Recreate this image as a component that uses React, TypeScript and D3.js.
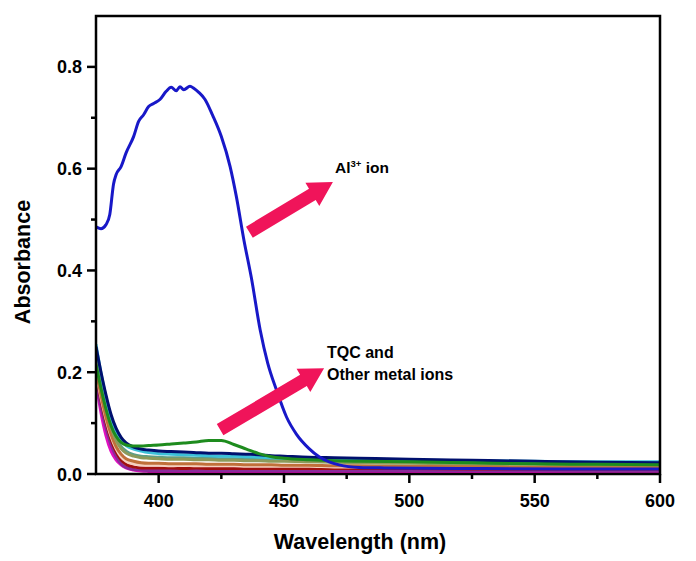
import React from "react";
import * as d3 from "d3";

// ---- Data ----
const xTicksMajor = [400, 450, 500, 550, 600];
const xTicksMinor = [425, 475, 525, 575];
const yTicksMajor = [0.0, 0.2, 0.4, 0.6, 0.8];
const yTicksMinor = [0.1, 0.3, 0.5, 0.7];

// Al3+ spectrum
const alWl = [375, 377, 379, 380.5, 382, 383, 385, 387, 390, 392, 394, 396, 398, 400.5, 403, 405, 407, 408.5, 410, 412.5, 414, 416, 418.5, 421.5, 425, 428.5, 431, 434, 437, 440.5, 443.5, 447, 451, 455, 460, 464, 468, 472, 480, 490, 520, 560, 600];
const alAbs = [0.486, 0.482, 0.49, 0.51, 0.57, 0.588, 0.604, 0.631, 0.663, 0.693, 0.706, 0.722, 0.728, 0.736, 0.752, 0.76, 0.753, 0.761, 0.755, 0.762, 0.758, 0.75, 0.736, 0.705, 0.663, 0.604, 0.545, 0.46, 0.385, 0.283, 0.218, 0.165, 0.112, 0.078, 0.05, 0.034, 0.024, 0.018, 0.013, 0.012, 0.011, 0.01, 0.01];

// TQC and other metal ions (common wavelength grid)
const wl = [375, 377, 379, 381, 383, 385, 387, 390, 393, 396, 400, 405, 410, 415, 420, 425, 430, 435, 440, 445, 450, 460, 470, 480, 500, 525, 550, 575, 600];
const magentaAbs = [0.18, 0.12, 0.075, 0.045, 0.028, 0.018, 0.012, 0.008, 0.006, 0.005, 0.004, 0.004, 0.004, 0.004, 0.004, 0.004, 0.004, 0.004, 0.004, 0.004, 0.004, 0.004, 0.004, 0.004, 0.004, 0.004, 0.004, 0.004, 0.004];
const purpleAbs = [0.185, 0.132, 0.09, 0.057, 0.035, 0.02, 0.013, 0.009, 0.008, 0.007, 0.007, 0.007, 0.007, 0.007, 0.007, 0.007, 0.007, 0.007, 0.007, 0.007, 0.007, 0.007, 0.007, 0.007, 0.007, 0.007, 0.007, 0.006, 0.006];
const darkRedAbs = [0.195, 0.145, 0.102, 0.068, 0.044, 0.028, 0.019, 0.014, 0.012, 0.012, 0.012, 0.012, 0.011, 0.012, 0.011, 0.011, 0.011, 0.011, 0.011, 0.011, 0.011, 0.011, 0.011, 0.011, 0.011, 0.01, 0.01, 0.01, 0.01];
const paleAbs = [0.2, 0.15, 0.108, 0.074, 0.05, 0.034, 0.025, 0.02, 0.018, 0.017, 0.017, 0.016, 0.017, 0.016, 0.016, 0.016, 0.016, 0.015, 0.015, 0.015, 0.015, 0.015, 0.014, 0.014, 0.014, 0.013, 0.013, 0.013, 0.013];
const orangeAbs = [0.205, 0.155, 0.112, 0.078, 0.054, 0.039, 0.03, 0.025, 0.022, 0.021, 0.021, 0.02, 0.02, 0.02, 0.019, 0.019, 0.019, 0.018, 0.018, 0.018, 0.017, 0.017, 0.016, 0.016, 0.015, 0.015, 0.014, 0.014, 0.014];
const tealAbs = [0.23, 0.178, 0.133, 0.097, 0.071, 0.054, 0.045, 0.038, 0.035, 0.034, 0.033, 0.032, 0.032, 0.031, 0.031, 0.03, 0.03, 0.029, 0.029, 0.028, 0.028, 0.027, 0.026, 0.025, 0.024, 0.023, 0.022, 0.021, 0.021];
const oliveAbs = [0.225, 0.172, 0.128, 0.092, 0.066, 0.05, 0.041, 0.035, 0.032, 0.031, 0.03, 0.029, 0.029, 0.028, 0.028, 0.027, 0.027, 0.026, 0.026, 0.025, 0.025, 0.024, 0.023, 0.022, 0.021, 0.02, 0.019, 0.018, 0.018];
const cyanAbs = [0.255, 0.198, 0.15, 0.11, 0.083, 0.066, 0.056, 0.049, 0.045, 0.042, 0.04, 0.039, 0.038, 0.037, 0.036, 0.035, 0.035, 0.034, 0.033, 0.032, 0.031, 0.03, 0.029, 0.028, 0.027, 0.026, 0.025, 0.024, 0.024];
const navyAbs = [0.25, 0.2, 0.155, 0.117, 0.09, 0.072, 0.061, 0.053, 0.049, 0.047, 0.045, 0.044, 0.043, 0.042, 0.041, 0.041, 0.04, 0.039, 0.038, 0.036, 0.035, 0.033, 0.032, 0.031, 0.029, 0.027, 0.025, 0.023, 0.022];
const greenAbs = [0.215, 0.168, 0.127, 0.095, 0.074, 0.062, 0.057, 0.055, 0.055, 0.056, 0.057, 0.059, 0.061, 0.063, 0.066, 0.066, 0.058, 0.049, 0.04, 0.034, 0.031, 0.028, 0.026, 0.025, 0.024, 0.022, 0.02, 0.019, 0.018];

const otherSeries = [
  { name: "magenta", color: "#E010C0", values: magentaAbs },
  { name: "purple", color: "#8A2A9A", values: purpleAbs },
  { name: "darkred", color: "#A01010", values: darkRedAbs },
  { name: "pale", color: "#F5D0C0", values: paleAbs },
  { name: "orange", color: "#C0703A", values: orangeAbs },
  { name: "teal", color: "#5E9E86", values: tealAbs },
  { name: "olive", color: "#8C9A5A", values: oliveAbs },
  { name: "cyan", color: "#3CC0D8", values: cyanAbs },
  { name: "navy", color: "#00106E", values: navyAbs },
  { name: "green", color: "#1E8C1E", values: greenAbs },
];

// Arrow annotations in data space: [tailWl, tailAbs, tipWl, tipAbs]
const arrowAl = [436.2, 0.475, 469.5, 0.574];
const arrowOther = [424.5, 0.087, 466.0, 0.208];

const W = 696;
const H = 561;
const margin = { left: 96, right: 36, top: 16, bottom: 87 };

export default function App() {
  const x = d3.scaleLinear().domain([375, 600]).range([margin.left, W - margin.right]);
  const y = d3.scaleLinear().domain([0, 0.9]).range([H - margin.bottom, margin.top]);
  const x0 = x.range()[0], x1 = x.range()[1];
  const y0 = y.range()[0], y1 = y.range()[1];

  const line = d3
    .line<[number, number]>()
    .x((d) => x(d[0]))
    .y((d) => y(d[1]))
    .curve(d3.curveMonotoneX);

  const arrowPath = (a: number[]) => {
    const tx = x(a[0]), ty = y(a[1]), hx = x(a[2]), hy = y(a[3]);
    const dx = hx - tx, dy = hy - ty;
    const len = Math.hypot(dx, dy);
    const ux = dx / len, uy = dy / len;
    const px = -uy, py = ux;
    const sw = 6.5, hw = 13.5, hl = 24;
    const bx = hx - ux * hl, by = hy - uy * hl;
    const pts = [
      [tx + px * sw, ty + py * sw],
      [bx + px * sw, by + py * sw],
      [bx + px * hw, by + py * hw],
      [hx, hy],
      [bx - px * hw, by - py * hw],
      [bx - px * sw, by - py * sw],
      [tx - px * sw, ty - py * sw],
    ];
    return "M" + pts.map((p) => p[0].toFixed(1) + "," + p[1].toFixed(1)).join("L") + "Z";
  };

  const font = "'Liberation Sans', Arial, sans-serif";

  return (
    <svg
      width={W}
      height={H}
      style={{ position: "absolute", left: 0, top: 0, background: "#fff" }}
      fontFamily={font}
    >
      <defs>
        <clipPath id="plotClip">
          <rect x={x0} y={y1} width={x1 - x0} height={y0 - y1} />
        </clipPath>
      </defs>
      <rect x={0} y={0} width={W} height={H} fill="#fff" />

      <g clipPath="url(#plotClip)">
        {otherSeries.map((s) => (
          <path
            key={s.name}
            d={line(wl.map((w, i) => [w, s.values[i]] as [number, number])) || ""}
            fill="none"
            stroke={s.color}
            strokeWidth={3}
            strokeLinejoin="round"
          />
        ))}
        <path
          d={line(alWl.map((w, i) => [w, alAbs[i]] as [number, number])) || ""}
          fill="none"
          stroke="#1818C8"
          strokeWidth={3}
          strokeLinejoin="round"
        />
      </g>

      {/* Arrows */}
      <path d={arrowPath(arrowAl)} fill="#F0145A" />
      <path d={arrowPath(arrowOther)} fill="#F0145A" />

      {/* Annotations */}
      <text x={335} y={173} fontSize={15.5} fontWeight="bold" fill="#000">
        Al
        <tspan fontSize={9.5} dy={-6}>3+</tspan>
        <tspan dy={6}>{"  ion"}</tspan>
      </text>
      <text x={327} y={358} fontSize={16} fontWeight="bold" fill="#000">
        TQC and
      </text>
      <text x={327} y={380} fontSize={16} fontWeight="bold" fill="#000">
        Other metal ions
      </text>

      {/* Frame */}
      <rect x={x0} y={y1} width={x1 - x0} height={y0 - y1} fill="none" stroke="#000" strokeWidth={2.5} />

      {/* X ticks */}
      {xTicksMajor.map((t) => (
        <g key={"xm" + t}>
          <line x1={x(t)} x2={x(t)} y1={y0} y2={y0 + 9} stroke="#000" strokeWidth={2.5} />
          <text x={x(t)} y={y0 + 33} textAnchor="middle" fontSize={18} fontWeight="bold">
            {t}
          </text>
        </g>
      ))}
      {xTicksMinor.map((t) => (
        <line key={"xn" + t} x1={x(t)} x2={x(t)} y1={y0} y2={y0 + 5} stroke="#000" strokeWidth={2.5} />
      ))}

      {/* Y ticks */}
      {yTicksMajor.map((t) => (
        <g key={"ym" + t}>
          <line x1={x0 - 9} x2={x0} y1={y(t)} y2={y(t)} stroke="#000" strokeWidth={2.5} />
          <text x={x0 - 14} y={y(t) + 6.5} textAnchor="end" fontSize={18} fontWeight="bold">
            {t.toFixed(1)}
          </text>
        </g>
      ))}
      {yTicksMinor.map((t) => (
        <line key={"yn" + t} x1={x0 - 5} x2={x0} y1={y(t)} y2={y(t)} stroke="#000" strokeWidth={2.5} />
      ))}

      {/* Axis titles */}
      <text x={360} y={549} textAnchor="middle" fontSize={21.5} fontWeight="bold">
        Wavelength (nm)
      </text>
      <text
        transform={`translate(30, ${(y0 + y1) / 2 + 17}) rotate(-90)`}
        textAnchor="middle"
        fontSize={21.5}
        fontWeight="bold"
      >
        Absorbance
      </text>
    </svg>
  );
}
